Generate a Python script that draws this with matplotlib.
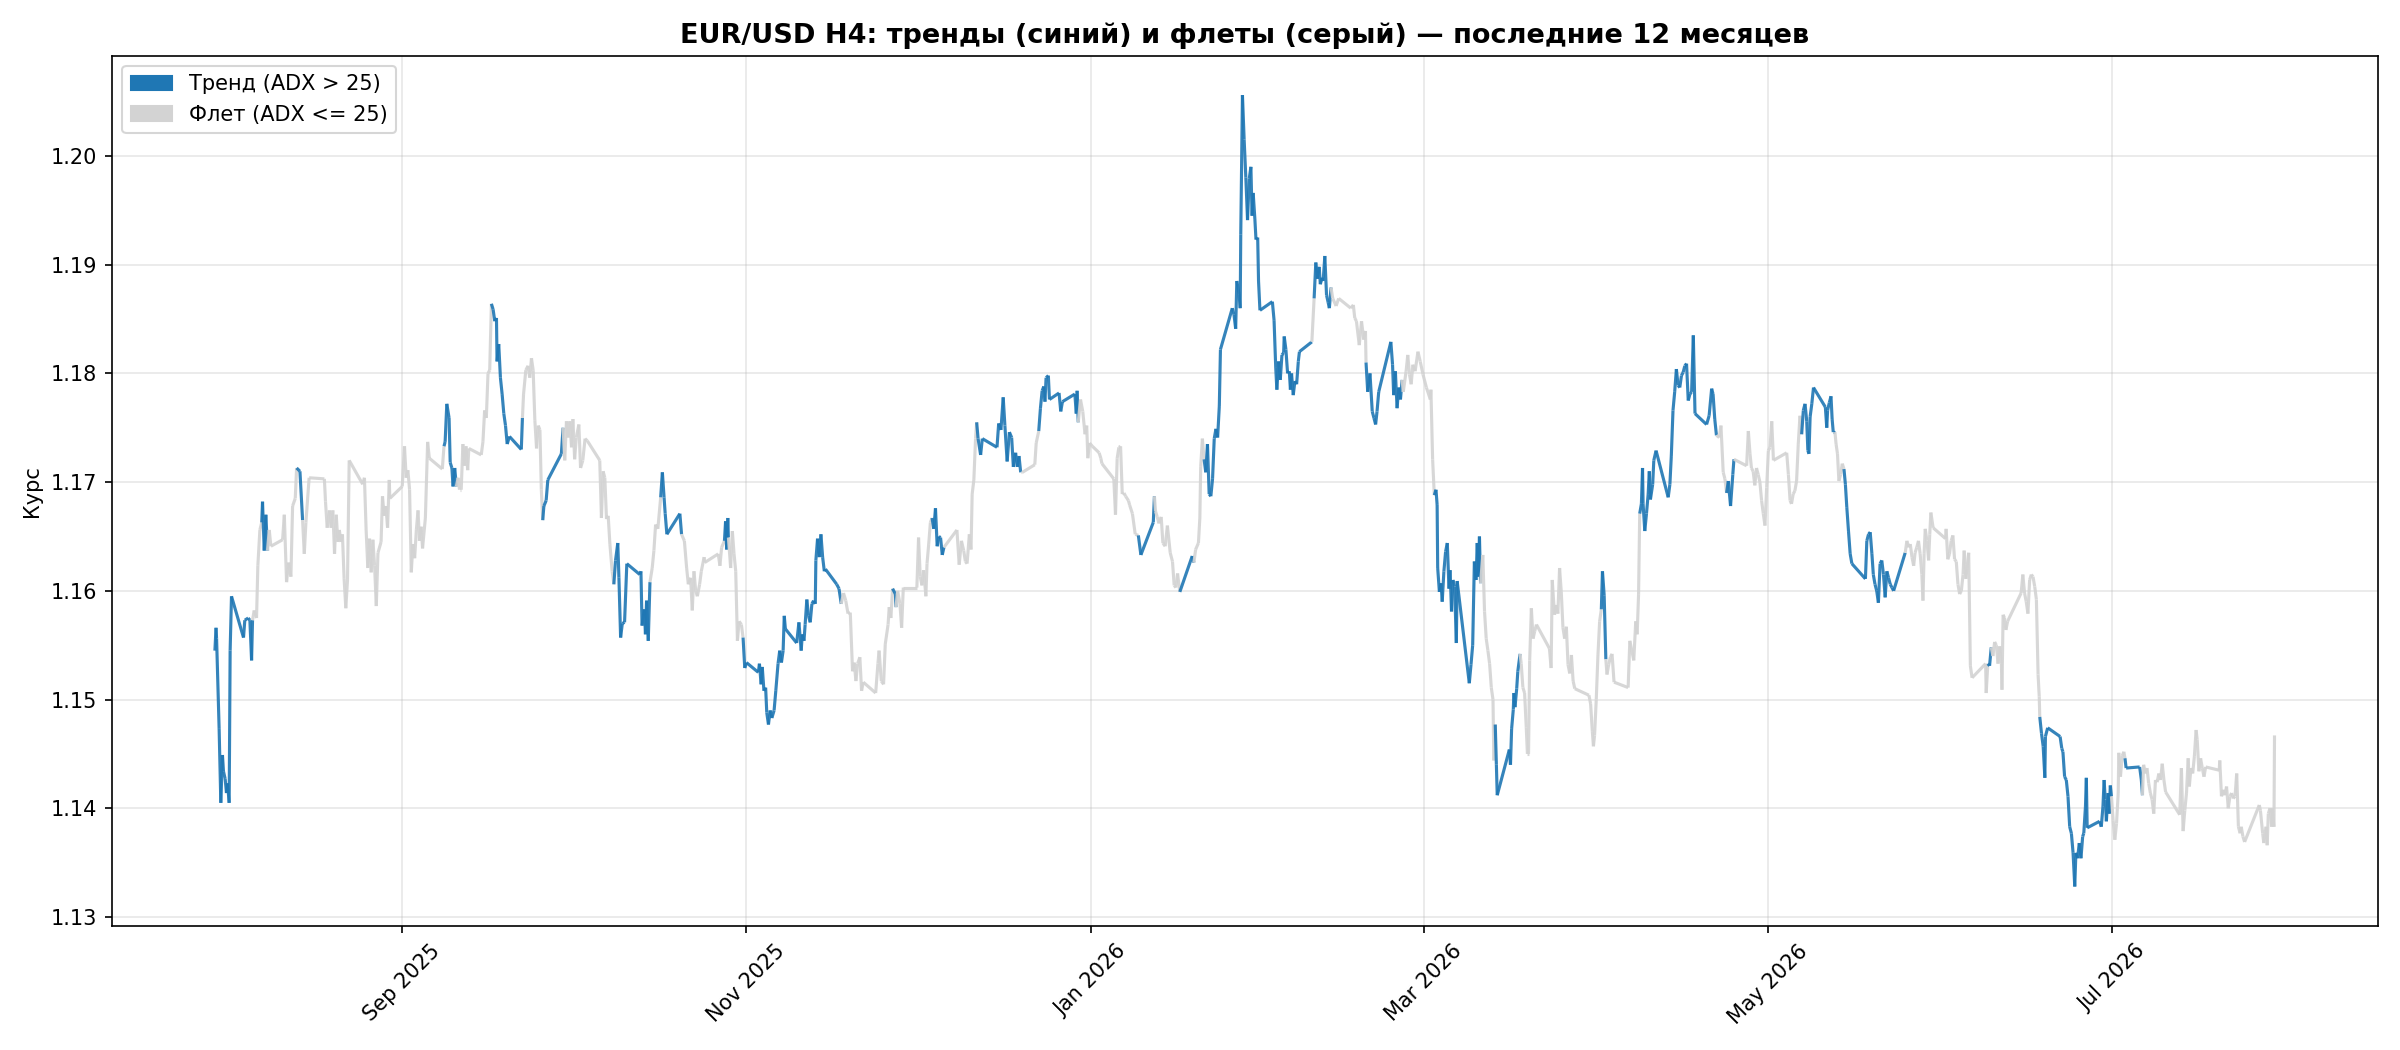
import matplotlib
matplotlib.use("Agg")
import matplotlib.pyplot as plt
import matplotlib.dates as mdates
from matplotlib.collections import LineCollection
from matplotlib.patches import Patch
import numpy as np
import pandas as pd

# H4 closes; time = days after 2025-07-28
start_date = "2025-07-28"

day = [
    1.8, 2.0, 2.1, 2.55, 2.85, 3.14, 3.32, 3.62, 3.85, 4.03,
    4.33, 4.5, 4.74, 6.87, 7.1, 7.7, 8.0, 8.3, 8.47, 8.76,
    9.18, 9.41, 9.77, 10.1, 10.24, 10.54, 10.83, 11.13, 11.43, 11.72,
    13.8, 14.1, 14.5, 14.86, 15.27, 15.57, 16.04, 16.28, 16.87, 17.34,
    17.64, 17.93, 18.5, 21.2, 21.4, 21.7, 22.1, 22.4, 22.7, 23.0,
    23.3, 23.6, 23.85, 24.15, 24.4, 24.7, 25.0, 25.3, 25.6, 28.0,
    28.3, 28.6, 28.9, 29.2, 29.5, 29.8, 30.1, 30.4, 30.7, 31.25,
    31.5, 31.8, 32.1, 32.4, 32.7, 32.8, 35.0, 35.4, 35.7, 36.0,
    36.3, 36.6, 36.9, 37.2, 37.5, 37.8, 38.05, 38.35, 38.6, 39.1,
    39.5, 39.8, 42.1, 42.4, 42.6, 42.9, 43.3, 43.5, 43.8, 44.0,
    44.3, 44.6, 44.9, 45.15, 45.45, 45.75, 46.0, 46.3, 46.6, 46.8,
    49.0, 49.3, 49.6, 49.9, 50.2, 50.5, 50.8, 51.1, 51.4, 51.7,
    51.8, 52.1, 52.4, 52.7, 53.0, 53.3, 53.6, 54.0, 56.1, 56.3,
    56.5, 56.9, 57.3, 57.6, 57.9, 58.2, 58.5, 58.8, 59.1, 59.4,
    59.65, 59.9, 60.1, 60.5, 60.8, 63.2, 63.5, 63.8, 64.1, 64.4,
    64.7, 65.0, 65.25, 65.55, 65.85, 66.3, 66.6, 67.0, 67.4, 67.8,
    70.0, 70.3, 70.6, 70.9, 71.2, 71.5, 71.8, 72.2, 72.5, 72.8,
    73.2, 73.4, 73.7, 74.0, 74.4, 74.8, 77.1, 77.3, 77.5, 77.9,
    78.1, 78.3, 78.6, 78.9, 79.3, 79.6, 79.9, 80.3, 80.8, 81.1,
    81.4, 81.6, 81.9, 84.2, 84.5, 85.0, 85.4, 85.7, 86.1, 86.4,
    86.7, 87.0, 87.3, 87.7, 88.0, 88.5, 88.6, 91.0, 91.3, 91.6,
    92.1, 92.3, 92.5, 92.7, 92.8, 93.2, 93.5, 93.8, 94.1, 94.4,
    94.7, 95.1, 95.4, 95.7, 96.0, 98.1, 98.3, 98.6, 98.8, 99.1,
    99.4, 99.6, 99.9, 100.2, 100.5, 100.9, 101.2, 101.6, 101.9, 102.2,
    102.5, 102.7, 102.9, 104.9, 105.3, 105.7, 105.9, 106.2, 106.4, 106.7,
    107.0, 107.3, 107.6, 107.9, 108.2, 108.3, 108.6, 108.9, 109.2, 109.5,
    109.8, 110.0, 112.0, 112.4, 112.8, 113.2, 113.6, 114.0, 114.4, 114.8,
    115.1, 115.4, 115.7, 116.1, 116.4, 116.7, 118.9, 119.3, 119.5, 119.9,
    120.3, 120.6, 121.1, 121.3, 121.6, 121.9, 122.4, 122.5, 122.8, 123.2,
    123.5, 123.8, 126.2, 126.5, 126.8, 127.1, 127.4, 127.8, 128.0, 128.3,
    128.6, 128.9, 129.2, 129.5, 129.8, 130.1, 130.4, 130.7, 131.0, 133.3,
    133.7, 134.1, 134.5, 134.8, 135.1, 135.5, 135.8, 136.0, 136.3, 136.6,
    136.8, 137.05, 137.5, 137.8, 140.4, 140.7, 141.1, 141.5, 141.8, 142.2,
    142.6, 143.0, 143.3, 143.7, 144.0, 144.3, 144.6, 144.9, 147.1, 147.35,
    147.8, 148.1, 148.4, 148.7, 148.9, 149.1, 149.5, 149.7, 151.4, 151.7,
    152.0, 154.2, 154.45, 154.6, 154.8, 155.2, 155.6, 156.0, 156.3, 156.5,
    156.8, 157.3, 158.5, 158.8, 159.0, 161.1, 161.4, 161.7, 162.0, 162.3,
    162.6, 162.9, 163.2, 163.7, 163.9, 164.4, 164.9, 165.45, 165.9, 168.1,
    168.3, 168.5, 168.8, 169.1, 169.5, 169.8, 170.2, 170.6, 171.1, 171.5,
    171.8, 172.1, 172.4, 172.8, 175.0, 175.3, 175.6, 176.1, 176.35, 176.5,
    176.8, 177.1, 177.4, 177.7, 178.0, 178.3, 178.6, 178.9, 179.2, 179.5,
    179.8, 180.0, 182.1, 182.4, 182.7, 182.9, 183.3, 183.5, 183.6, 183.9,
    184.2, 184.5, 184.8, 185.1, 185.4, 185.6, 185.8, 186.1, 186.3, 186.6,
    186.75, 187.0, 189.2, 189.5, 189.8, 190.0, 190.3, 190.6, 190.9, 191.2,
    191.3, 191.6, 191.9, 192.2, 192.4, 192.6, 192.9, 193.2, 193.5, 193.8,
    194.0, 196.2, 196.6, 196.9, 197.2, 197.5, 197.7, 198.0, 198.2, 198.5,
    198.8, 199.1, 199.3, 199.6, 199.9, 200.5, 200.95, 203.1, 203.55, 203.8,
    204.1, 204.6, 205.0, 205.4, 205.7, 205.8, 206.1, 206.5, 206.9, 207.2,
    207.5, 207.75, 208.05, 210.2, 210.5, 210.7, 211.0, 211.3, 211.6, 211.9,
    212.2, 212.4, 212.9, 213.2, 213.5, 213.8, 214.1, 214.5, 215.0, 215.4,
    215.9, 216.5, 217.2, 217.3, 217.6, 217.9, 218.2, 218.4, 218.5, 218.8,
    219.1, 219.3, 219.6, 219.9, 220.2, 220.5, 220.7, 220.95, 221.2, 221.5,
    221.8, 221.95, 224.1, 224.4, 224.7, 225.0, 225.3, 225.5, 225.7, 225.9,
    226.1, 226.5, 226.8, 227.1, 227.4, 227.7, 228.0, 228.3, 228.45, 228.7,
    228.9, 229.05, 231.2, 231.4, 231.6, 231.9, 232.0, 232.2, 232.5, 232.7,
    233.1, 233.3, 233.6, 233.9, 234.2, 234.4, 234.6, 234.8, 235.1, 235.4,
    235.7, 236.0, 238.3, 238.6, 238.8, 239.2, 239.5, 239.8, 240.1, 240.4,
    240.7, 241.0, 241.3, 241.6, 241.9, 242.2, 242.5, 242.8, 245.3, 245.6,
    245.9, 246.1, 246.3, 246.6, 246.9, 247.2, 247.5, 247.7, 248.0, 248.3,
    248.5, 248.8, 249.1, 249.4, 249.75, 252.25, 252.55, 253.25, 253.6, 253.85,
    254.1, 254.3, 254.6, 254.8, 254.9, 255.2, 255.5, 255.8, 256.0, 256.2,
    256.6, 256.8, 257.2, 259.35, 259.65, 259.9, 260.2, 260.5, 260.8, 261.1,
    261.4, 261.7, 262.0, 262.3, 262.6, 262.9, 263.2, 263.5, 263.8, 264.1,
    266.15, 266.6, 267.05, 267.3, 267.6, 267.9, 268.4, 268.7, 269.1, 269.4,
    269.7, 270.0, 270.4, 270.8, 271.0, 273.25, 273.55, 273.85, 274.1, 274.4,
    274.7, 275.0, 275.3, 275.6, 275.9, 276.2, 276.5, 276.8, 277.1, 277.4,
    277.7, 278.0, 280.35, 280.65, 280.95, 281.2, 281.5, 281.8, 282.1, 282.4,
    282.7, 283.0, 283.3, 283.6, 283.9, 284.1, 284.3, 284.5, 284.8, 285.1,
    287.2, 287.45, 287.6, 287.9, 288.2, 288.4, 288.6, 288.9, 289.1, 289.35,
    289.6, 289.9, 290.2, 290.5, 290.75, 291.0, 291.3, 291.6, 291.9, 294.3,
    294.55, 294.85, 295.15, 295.45, 295.7, 296.0, 296.3, 296.6, 296.9, 297.2,
    297.5, 297.8, 298.1, 298.4, 298.7, 299.0, 299.3, 301.35, 301.65, 301.95,
    302.25, 302.55, 302.85, 303.1, 303.4, 303.7, 304.0, 304.3, 304.5, 304.7,
    304.9, 305.2, 305.5, 305.7, 305.9, 306.3, 308.5, 308.6, 308.9, 309.2,
    309.5, 309.8, 310.1, 310.4, 310.7, 311.0, 311.3, 311.6, 311.8, 312.1,
    312.3, 312.6, 312.9, 313.2, 315.6, 315.7, 316.0, 316.3, 316.6, 316.9,
    317.2, 317.5, 317.8, 318.1, 318.4, 318.5, 318.7, 318.95, 319.2, 319.5,
    321.9, 322.2, 322.5, 322.8, 323.1, 323.4, 323.7, 324.0, 324.3, 324.6,
    324.9, 325.1, 325.2, 325.5, 325.8, 326.1, 326.2, 326.6, 328.8, 329.1,
    329.3, 329.6, 329.9, 330.2, 330.5, 330.8, 331.1, 331.4, 331.6, 331.9,
    332.2, 332.5, 332.8, 333.0, 333.3, 333.45, 333.6, 335.8, 336.1, 336.4,
    336.6, 336.8, 337.0, 337.3, 337.5, 337.7, 337.9, 338.2, 338.5, 338.8,
    339.1, 339.2, 339.5, 339.8, 340.1, 340.3, 340.5, 342.9, 343.2, 343.4,
    343.6, 343.9, 344.2, 344.5, 344.8, 345.1, 345.4, 345.7, 346.0, 346.3,
    346.6, 346.9, 347.2, 347.5, 350.0, 350.3, 350.6, 350.9, 351.2, 351.5,
    351.7, 352.0, 352.3, 352.6, 352.9, 353.1, 353.4, 353.7, 354.0, 354.3,
    354.6, 357.0, 357.1, 357.4, 357.7, 358.0, 358.3, 358.6, 358.9, 359.2,
    359.5, 359.8, 360.1, 360.4, 360.7, 360.9, 361.2, 361.5, 364.1, 364.3,
    364.7, 364.9, 365.3, 365.5, 365.7, 366.0, 366.3, 366.4, 366.7, 366.8,
]

close = [
    1.1545, 1.1566, 1.1556, 1.1473, 1.1405, 1.1449, 1.1434, 1.1427, 1.1414, 1.1423,
    1.1405, 1.1545, 1.1595, 1.1557, 1.1573, 1.1575, 1.1573, 1.1536, 1.1573, 1.1582,
    1.1575, 1.1623, 1.1656, 1.1663, 1.1682, 1.1637, 1.1670, 1.1637, 1.1656, 1.1641,
    1.1647, 1.1670, 1.1608, 1.1626, 1.1613, 1.1678, 1.1685, 1.1713, 1.1710, 1.1665,
    1.1634, 1.1663, 1.1704, 1.1703, 1.1682, 1.1658, 1.1674, 1.1658, 1.1674, 1.1634,
    1.1670, 1.1645, 1.1656, 1.1645, 1.1652, 1.1611, 1.1584, 1.1610, 1.1720, 1.1698,
    1.1704, 1.1656, 1.1621, 1.1648, 1.1617, 1.1647, 1.1623, 1.1586, 1.1635, 1.1645,
    1.1687, 1.1669, 1.1678, 1.1658, 1.1702, 1.1685, 1.1696, 1.1733, 1.1704, 1.1711,
    1.1693, 1.1617, 1.1643, 1.1630, 1.1656, 1.1674, 1.1646, 1.1659, 1.1639, 1.1667,
    1.1737, 1.1722, 1.1712, 1.1733, 1.1737, 1.1772, 1.1759, 1.1718, 1.1713, 1.1696,
    1.1713, 1.1696, 1.1704, 1.1693, 1.1693, 1.1735, 1.1715, 1.1733, 1.1711, 1.1731,
    1.1725, 1.1737, 1.1766, 1.1759, 1.1800, 1.1803, 1.1864, 1.1859, 1.1848, 1.1851,
    1.1811, 1.1827, 1.1796, 1.1781, 1.1763, 1.1752, 1.1735, 1.1742, 1.1730, 1.1759,
    1.1781, 1.1803, 1.1807, 1.1796, 1.1814, 1.1803, 1.1757, 1.1731, 1.1752, 1.1748,
    1.1693, 1.1665, 1.1678, 1.1683, 1.1702, 1.1726, 1.1750, 1.1720, 1.1756, 1.1741,
    1.1756, 1.1732, 1.1758, 1.1721, 1.1741, 1.1753, 1.1713, 1.1720, 1.1740, 1.1738,
    1.1720, 1.1667, 1.1710, 1.1704, 1.1666, 1.1669, 1.1643, 1.1618, 1.1606, 1.1628,
    1.1644, 1.1612, 1.1557, 1.1570, 1.1571, 1.1625, 1.1615, 1.1618, 1.1568, 1.1583,
    1.1560, 1.1591, 1.1554, 1.1608, 1.1621, 1.1637, 1.1661, 1.1657, 1.1686, 1.1709,
    1.1686, 1.1671, 1.1652, 1.1671, 1.1652, 1.1646, 1.1621, 1.1606, 1.1612, 1.1582,
    1.1618, 1.1600, 1.1595, 1.1606, 1.1618, 1.1631, 1.1626, 1.1634, 1.1623, 1.1640,
    1.1646, 1.1664, 1.1638, 1.1667, 1.1649, 1.1621, 1.1655, 1.1634, 1.1618, 1.1554,
    1.1572, 1.1569, 1.1557, 1.1529, 1.1534, 1.1525, 1.1533, 1.1514, 1.1530, 1.1508,
    1.1511, 1.1488, 1.1477, 1.1490, 1.1483, 1.1490, 1.1508, 1.1533, 1.1545, 1.1534,
    1.1545, 1.1577, 1.1565, 1.1552, 1.1571, 1.1545, 1.1560, 1.1554, 1.1569, 1.1592,
    1.1577, 1.1571, 1.1588, 1.1591, 1.1588, 1.1628, 1.1648, 1.1631, 1.1652, 1.1631,
    1.1618, 1.1620, 1.1606, 1.1602, 1.1588, 1.1598, 1.1591, 1.1579, 1.1580, 1.1526,
    1.1534, 1.1517, 1.1533, 1.1539, 1.1508, 1.1516, 1.1506, 1.1533, 1.1545, 1.1517,
    1.1514, 1.1551, 1.1569, 1.1585, 1.1575, 1.1602, 1.1597, 1.1585, 1.1600, 1.1588,
    1.1566, 1.1603, 1.1603, 1.1649, 1.1613, 1.1605, 1.1619, 1.1595, 1.1625, 1.1643,
    1.1663, 1.1667, 1.1657, 1.1676, 1.1641, 1.1650, 1.1649, 1.1633, 1.1640, 1.1656,
    1.1624, 1.1646, 1.1637, 1.1627, 1.1625, 1.1652, 1.1638, 1.1689, 1.1702, 1.1740,
    1.1755, 1.1740, 1.1725, 1.1740, 1.1732, 1.1754, 1.1748, 1.1778, 1.1752, 1.1719,
    1.1746, 1.1741, 1.1714, 1.1727, 1.1714, 1.1724, 1.1709, 1.1709, 1.1716, 1.1736,
    1.1747, 1.1768, 1.1784, 1.1788, 1.1774, 1.1796, 1.1798, 1.1776, 1.1782, 1.1765,
    1.1774, 1.1781, 1.1763, 1.1784, 1.1755, 1.1776, 1.1765, 1.1744, 1.1752, 1.1722,
    1.1736, 1.1733, 1.1727, 1.1722, 1.1717, 1.1703, 1.1670, 1.1722, 1.1732, 1.1733,
    1.1689, 1.1690, 1.1687, 1.1683, 1.1679, 1.1671, 1.1652, 1.1651, 1.1633, 1.1663,
    1.1687, 1.1673, 1.1668, 1.1662, 1.1668, 1.1644, 1.1641, 1.1660, 1.1635, 1.1627,
    1.1605, 1.1603, 1.1616, 1.1599, 1.1632, 1.1626, 1.1638, 1.1644, 1.1667, 1.1714,
    1.1740, 1.1721, 1.1709, 1.1735, 1.1689, 1.1687, 1.1703, 1.1740, 1.1749, 1.1741,
    1.1770, 1.1822, 1.1860, 1.1854, 1.1841, 1.1885, 1.1873, 1.1860, 1.1928, 1.2056,
    1.2015, 1.1980, 1.1941, 1.1979, 1.1990, 1.1945, 1.1966, 1.1942, 1.1923, 1.1925,
    1.1885, 1.1858, 1.1866, 1.1849, 1.1805, 1.1785, 1.1811, 1.1794, 1.1817, 1.1819,
    1.1834, 1.1822, 1.1800, 1.1802, 1.1785, 1.1800, 1.1780, 1.1793, 1.1790, 1.1811,
    1.1820, 1.1829, 1.1869, 1.1902, 1.1887, 1.1898, 1.1882, 1.1888, 1.1885, 1.1908,
    1.1872, 1.1865, 1.1860, 1.1879, 1.1869, 1.1862, 1.1869, 1.1860, 1.1863, 1.1851,
    1.1848, 1.1826, 1.1848, 1.1831, 1.1839, 1.1810, 1.1783, 1.1800, 1.1765, 1.1759,
    1.1753, 1.1765, 1.1783, 1.1829, 1.1808, 1.1780, 1.1802, 1.1768, 1.1787, 1.1776,
    1.1794, 1.1783, 1.1802, 1.1817, 1.1799, 1.1790, 1.1808, 1.1802, 1.1820, 1.1811,
    1.1799, 1.1787, 1.1776, 1.1785, 1.1721, 1.1688, 1.1693, 1.1679, 1.1621, 1.1599,
    1.1607, 1.1590, 1.1618, 1.1636, 1.1644, 1.1602, 1.1619, 1.1581, 1.1610, 1.1604,
    1.1552, 1.1609, 1.1515, 1.1532, 1.1550, 1.1627, 1.1610, 1.1644, 1.1613, 1.1650,
    1.1607, 1.1633, 1.1581, 1.1556, 1.1545, 1.1533, 1.1511, 1.1500, 1.1444, 1.1477,
    1.1440, 1.1412, 1.1454, 1.1440, 1.1473, 1.1491, 1.1506, 1.1493, 1.1510, 1.1526,
    1.1542, 1.1533, 1.1511, 1.1506, 1.1474, 1.1450, 1.1450, 1.1536, 1.1584, 1.1556,
    1.1563, 1.1569, 1.1547, 1.1529, 1.1610, 1.1578, 1.1587, 1.1579, 1.1621, 1.1599,
    1.1566, 1.1556, 1.1567, 1.1532, 1.1524, 1.1541, 1.1517, 1.1510, 1.1504, 1.1496,
    1.1471, 1.1457, 1.1467, 1.1500, 1.1541, 1.1572, 1.1583, 1.1618, 1.1596, 1.1537,
    1.1523, 1.1532, 1.1539, 1.1542, 1.1516, 1.1511, 1.1554, 1.1536, 1.1572, 1.1560,
    1.1597, 1.1671, 1.1680, 1.1713, 1.1680, 1.1655, 1.1671, 1.1689, 1.1710, 1.1684,
    1.1698, 1.1720, 1.1729, 1.1686, 1.1698, 1.1724, 1.1766, 1.1783, 1.1804, 1.1789,
    1.1787, 1.1798, 1.1801, 1.1807, 1.1809, 1.1775, 1.1781, 1.1783, 1.1835, 1.1763,
    1.1753, 1.1761, 1.1786, 1.1781, 1.1758, 1.1743, 1.1741, 1.1752, 1.1709, 1.1703,
    1.1690, 1.1701, 1.1678, 1.1707, 1.1721, 1.1715, 1.1747, 1.1726, 1.1713, 1.1710,
    1.1697, 1.1713, 1.1707, 1.1700, 1.1683, 1.1671, 1.1660, 1.1695, 1.1729, 1.1732,
    1.1756, 1.1720, 1.1727, 1.1707, 1.1683, 1.1680, 1.1689, 1.1692, 1.1701, 1.1735,
    1.1761, 1.1744, 1.1766, 1.1772, 1.1756, 1.1729, 1.1726, 1.1760, 1.1772, 1.1787,
    1.1769, 1.1750, 1.1766, 1.1773, 1.1779, 1.1758, 1.1746, 1.1746, 1.1735, 1.1726,
    1.1701, 1.1707, 1.1717, 1.1712, 1.1698, 1.1677, 1.1655, 1.1634, 1.1625, 1.1611,
    1.1646, 1.1652, 1.1654, 1.1634, 1.1615, 1.1606, 1.1600, 1.1589, 1.1625, 1.1628,
    1.1615, 1.1594, 1.1618, 1.1612, 1.1606, 1.1603, 1.1600, 1.1635, 1.1646, 1.1640,
    1.1643, 1.1631, 1.1623, 1.1635, 1.1640, 1.1646, 1.1634, 1.1615, 1.1591, 1.1634,
    1.1657, 1.1646, 1.1628, 1.1652, 1.1672, 1.1658, 1.1648, 1.1657, 1.1629, 1.1634,
    1.1646, 1.1651, 1.1629, 1.1627, 1.1606, 1.1597, 1.1600, 1.1615, 1.1637, 1.1611,
    1.1621, 1.1635, 1.1531, 1.1520, 1.1533, 1.1506, 1.1533, 1.1531, 1.1548, 1.1540,
    1.1553, 1.1550, 1.1533, 1.1549, 1.1533, 1.1509, 1.1578, 1.1575, 1.1564, 1.1572,
    1.1598, 1.1615, 1.1598, 1.1590, 1.1579, 1.1610, 1.1615, 1.1613, 1.1604, 1.1592,
    1.1523, 1.1503, 1.1484, 1.1469, 1.1457, 1.1428, 1.1466, 1.1474, 1.1466, 1.1455,
    1.1452, 1.1429, 1.1426, 1.1411, 1.1383, 1.1377, 1.1359, 1.1328, 1.1359, 1.1354,
    1.1368, 1.1354, 1.1374, 1.1377, 1.1402, 1.1428, 1.1382, 1.1388, 1.1383, 1.1402,
    1.1426, 1.1408, 1.1388, 1.1414, 1.1395, 1.1421, 1.1411, 1.1389, 1.1371, 1.1386,
    1.1414, 1.1451, 1.1429, 1.1448, 1.1452, 1.1446, 1.1437, 1.1438, 1.1426, 1.1412,
    1.1440, 1.1432, 1.1437, 1.1423, 1.1414, 1.1408, 1.1395, 1.1426, 1.1424, 1.1432,
    1.1426, 1.1441, 1.1426, 1.1415, 1.1394, 1.1437, 1.1379, 1.1398, 1.1414, 1.1446,
    1.1420, 1.1437, 1.1432, 1.1448, 1.1472, 1.1463, 1.1434, 1.1446, 1.1437, 1.1429,
    1.1438, 1.1435, 1.1444, 1.1411, 1.1417, 1.1412, 1.1420, 1.1400, 1.1411, 1.1414,
    1.1409, 1.1411, 1.1432, 1.1383, 1.1377, 1.1383, 1.1374, 1.1369, 1.1403, 1.1398,
    1.1377, 1.1368, 1.1383, 1.1366, 1.1395, 1.1400, 1.1383, 1.1400, 1.1383, 1.1467,
]

# 1 = trend (ADX > 25), 0 = flat; applies to the step leaving each bar
trend = [
    1, 1, 1, 1, 1, 1, 1, 1, 1, 1,
    1, 1, 1, 1, 1, 1, 1, 1, 0, 0,
    0, 0, 0, 1, 1, 1, 1, 0, 0, 0,
    0, 0, 0, 0, 0, 0, 0, 1, 1, 0,
    0, 0, 0, 0, 0, 0, 0, 0, 0, 0,
    0, 0, 0, 0, 0, 0, 0, 0, 0, 0,
    0, 0, 0, 0, 0, 0, 0, 0, 0, 0,
    0, 0, 0, 0, 0, 0, 0, 0, 0, 0,
    0, 0, 0, 0, 0, 0, 0, 0, 0, 0,
    0, 0, 0, 1, 1, 1, 1, 1, 1, 1,
    1, 0, 0, 0, 0, 0, 0, 0, 0, 0,
    0, 0, 0, 0, 0, 0, 1, 1, 1, 1,
    1, 1, 1, 1, 1, 1, 1, 1, 1, 0,
    0, 0, 0, 0, 0, 0, 0, 0, 0, 0,
    0, 1, 1, 1, 1, 1, 0, 0, 0, 0,
    0, 0, 0, 0, 0, 0, 0, 0, 0, 0,
    0, 0, 0, 0, 0, 0, 0, 0, 1, 1,
    1, 1, 1, 1, 1, 1, 1, 1, 1, 1,
    1, 1, 1, 0, 0, 0, 0, 0, 1, 1,
    1, 1, 1, 1, 0, 0, 0, 0, 0, 0,
    0, 0, 0, 0, 0, 0, 0, 0, 0, 0,
    1, 1, 1, 1, 0, 0, 0, 0, 0, 0,
    0, 0, 1, 1, 1, 1, 1, 1, 1, 1,
    1, 1, 1, 1, 1, 1, 1, 1, 1, 1,
    1, 1, 1, 1, 1, 1, 1, 1, 1, 1,
    1, 1, 1, 1, 1, 1, 1, 1, 1, 1,
    1, 1, 1, 1, 0, 0, 0, 0, 0, 0,
    0, 0, 0, 0, 0, 0, 0, 0, 0, 0,
    0, 0, 0, 0, 0, 1, 1, 0, 0, 0,
    0, 0, 0, 0, 0, 0, 0, 0, 0, 0,
    0, 1, 1, 1, 1, 1, 1, 1, 0, 0,
    0, 0, 0, 0, 0, 0, 0, 0, 0, 0,
    1, 1, 1, 1, 1, 1, 1, 1, 1, 1,
    1, 1, 1, 1, 1, 1, 0, 0, 0, 0,
    1, 1, 1, 1, 1, 1, 1, 1, 1, 1,
    1, 1, 1, 1, 0, 0, 0, 0, 0, 0,
    0, 0, 0, 0, 0, 0, 0, 0, 0, 0,
    0, 0, 0, 0, 0, 0, 0, 1, 1, 1,
    0, 0, 0, 0, 0, 0, 0, 0, 0, 0,
    0, 0, 0, 1, 1, 0, 0, 0, 0, 0,
    0, 1, 1, 1, 1, 1, 1, 1, 1, 1,
    1, 1, 1, 1, 1, 1, 1, 1, 1, 1,
    1, 1, 1, 1, 1, 1, 1, 1, 1, 1,
    1, 1, 1, 1, 1, 1, 1, 1, 1, 1,
    1, 1, 1, 1, 1, 1, 1, 1, 1, 1,
    1, 0, 1, 1, 1, 1, 1, 1, 1, 1,
    1, 1, 1, 0, 0, 0, 0, 0, 0, 0,
    0, 0, 0, 0, 0, 1, 1, 1, 1, 1,
    1, 1, 1, 1, 1, 1, 1, 1, 1, 1,
    0, 0, 0, 0, 0, 0, 0, 0, 0, 0,
    0, 0, 0, 0, 0, 1, 1, 1, 1, 1,
    1, 1, 1, 1, 1, 1, 1, 1, 1, 1,
    1, 1, 1, 1, 1, 1, 1, 1, 1, 1,
    0, 0, 0, 0, 0, 0, 0, 0, 0, 1,
    1, 1, 1, 1, 1, 1, 1, 1, 1, 1,
    0, 0, 0, 0, 0, 0, 0, 0, 0, 0,
    0, 0, 0, 0, 0, 0, 0, 0, 0, 0,
    0, 0, 0, 0, 0, 0, 0, 0, 0, 0,
    0, 0, 0, 0, 0, 0, 1, 1, 1, 0,
    0, 0, 0, 0, 0, 0, 0, 0, 0, 0,
    0, 1, 1, 1, 1, 1, 1, 1, 1, 1,
    1, 1, 1, 1, 1, 1, 1, 1, 1, 1,
    1, 1, 1, 1, 1, 1, 1, 1, 1, 1,
    1, 1, 1, 1, 1, 0, 0, 0, 0, 0,
    1, 1, 1, 1, 0, 0, 0, 0, 0, 0,
    0, 0, 0, 0, 0, 0, 0, 0, 0, 0,
    0, 0, 0, 0, 0, 0, 0, 0, 0, 0,
    0, 1, 1, 1, 1, 1, 1, 1, 1, 1,
    1, 1, 1, 1, 1, 1, 1, 0, 0, 0,
    0, 0, 0, 1, 1, 1, 1, 1, 1, 1,
    1, 1, 1, 1, 1, 1, 1, 1, 1, 1,
    1, 1, 1, 1, 1, 1, 1, 0, 0, 0,
    0, 0, 0, 0, 0, 0, 0, 0, 0, 0,
    0, 0, 0, 0, 0, 0, 0, 0, 0, 0,
    0, 0, 0, 0, 0, 0, 0, 0, 0, 0,
    0, 0, 0, 0, 0, 0, 1, 1, 0, 0,
    0, 0, 0, 0, 0, 0, 0, 0, 0, 0,
    0, 0, 0, 0, 0, 0, 0, 0, 0, 0,
    0, 0, 1, 1, 1, 1, 1, 1, 1, 1,
    1, 1, 1, 1, 1, 1, 1, 1, 1, 1,
    1, 1, 1, 1, 1, 1, 1, 1, 1, 1,
    1, 1, 1, 1, 1, 1, 0, 0, 0, 0,
    0, 0, 0, 0, 0, 1, 1, 1, 1, 0,
    0, 0, 0, 0, 0, 0, 0, 0, 0, 0,
    0, 0, 0, 0, 0, 0, 0, 0, 0, 0,
    0, 0, 0, 0, 0, 0, 0, 0, 0, 0,
    0, 0, 0, 0, 0, 0, 0, 0, 0, 0,
    0, 0, 0, 0, 0, 0, 0, 0, 0, 0,
    0, 0, 0, 0, 0, 0, 0, 0, 0, 0,
]

TREND_COLOR = "#1f77b4"
FLAT_COLOR = "lightgray"


def main() -> None:
    times = pd.Timestamp(start_date) + pd.to_timedelta(day, unit="D")
    x = mdates.date2num(times.to_pydatetime())
    y = np.asarray(close)

    pts = np.column_stack([x, y])
    segs = np.stack([pts[:-1], pts[1:]], axis=1)
    colors = [TREND_COLOR if t else FLAT_COLOR for t in trend[:-1]]

    fig, ax = plt.subplots(figsize=(16, 7), dpi=150)
    lc = LineCollection(segs, colors=colors, linewidths=1.5, alpha=0.9)
    ax.add_collection(lc)
    ax.autoscale()

    ax.xaxis.set_major_locator(mdates.MonthLocator(bymonth=[1, 3, 5, 7, 9, 11]))
    ax.xaxis.set_major_formatter(mdates.DateFormatter("%b %Y"))
    plt.setp(ax.get_xticklabels(), rotation=45)

    ax.set_title("EUR/USD H4: тренды (синий) и флеты (серый) — последние 12 месяцев",
                 fontsize=13, fontweight="bold")
    ax.set_ylabel("Курс")
    ax.grid(True, alpha=0.3)

    handles = [
        Patch(color=TREND_COLOR, label="Тренд (ADX > 25)"),
        Patch(color=FLAT_COLOR, label="Флет (ADX <= 25)"),
    ]
    ax.legend(handles=handles, loc="upper left")

    fig.tight_layout()
    fig.savefig("out.png", dpi=150)


if __name__ == "__main__":
    main()
